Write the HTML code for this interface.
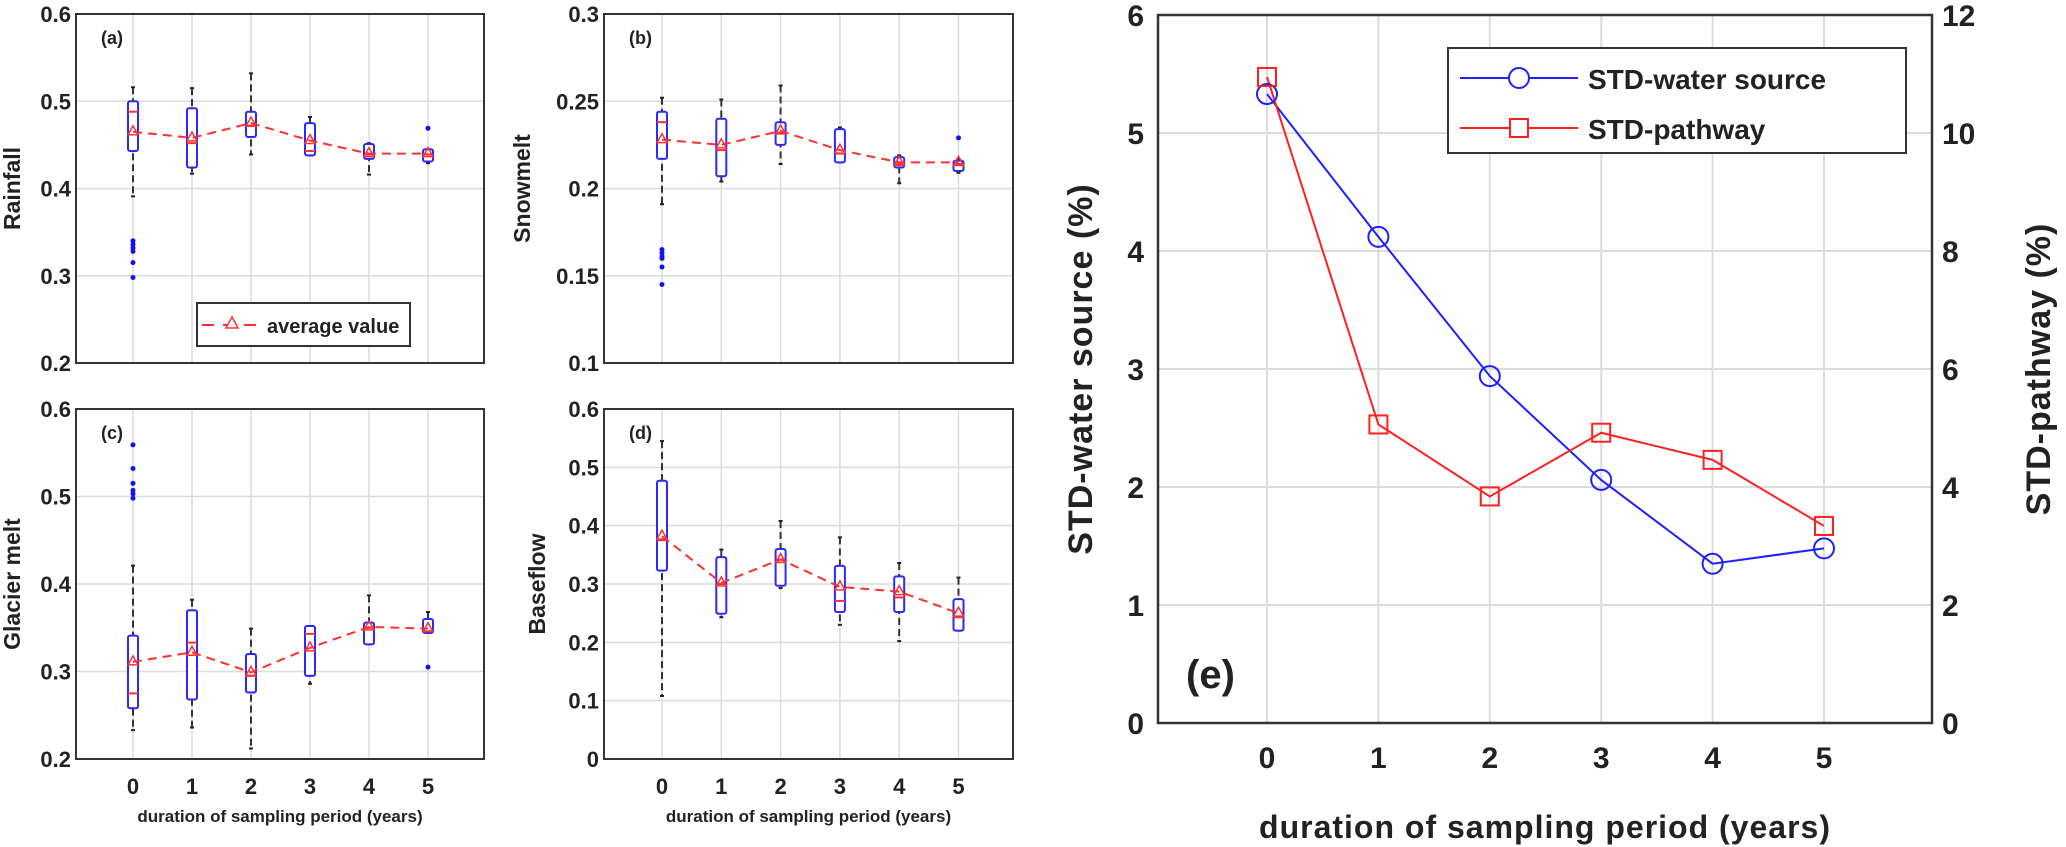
<!DOCTYPE html>
<html><head><meta charset="utf-8">
<style>
html,body{margin:0;padding:0;background:#fff;}
svg{display:block;}
text{font-family:"Liberation Sans Narrow","Liberation Sans",sans-serif;font-weight:bold;fill:#222;}
</style></head>
<body>
<svg id="fig" width="2066" height="847" viewBox="0 0 2066 847" xmlns="http://www.w3.org/2000/svg"></svg>
<script>
// ---------- data ----------
const categories = [0,1,2,3,4,5];
// box stats per category: [whiskerLow, q1, median, q3, whiskerHigh]
const rainfallBoxes = [[0.391,0.443,0.488,0.500,0.516],[0.417,0.424,0.452,0.492,0.515],[0.439,0.459,0.472,0.488,0.532],[0.438,0.438,0.443,0.475,0.482],[0.416,0.434,0.439,0.451,0.452],[0.429,0.431,0.439,0.445,0.445]];
const rainfallMeans = [0.465,0.458,0.475,0.455,0.440,0.440];
const rainfallOutliers = [[0,0.340],[0,0.336],[0,0.332],[0,0.328],[0,0.315],[0,0.298],[5,0.469]];
const snowmeltBoxes = [[0.191,0.217,0.238,0.244,0.252],[0.204,0.207,0.222,0.240,0.251],[0.214,0.225,0.232,0.238,0.259],[0.215,0.215,0.220,0.234,0.235],[0.203,0.212,0.214,0.218,0.219],[0.209,0.210,0.214,0.216,0.217]];
const snowmeltMeans = [0.228,0.225,0.233,0.222,0.215,0.215];
const snowmeltOutliers = [[0,0.165],[0,0.163],[0,0.161],[0,0.160],[0,0.155],[0,0.145],[5,0.229]];
const glacierBoxes = [[0.233,0.258,0.275,0.341,0.421],[0.236,0.268,0.333,0.370,0.382],[0.212,0.276,0.295,0.320,0.349],[0.286,0.295,0.343,0.352,0.352],[0.331,0.331,0.350,0.356,0.387],[0.344,0.344,0.346,0.360,0.368]];
const glacierMeans = [0.311,0.322,0.299,0.327,0.351,0.349];
const glacierOutliers = [[0,0.559],[0,0.532],[0,0.515],[0,0.507],[0,0.503],[0,0.498],[5,0.305]];
const baseflowBoxes = [[0.108,0.323,0.375,0.477,0.545],[0.243,0.249,0.300,0.346,0.359],[0.293,0.297,0.342,0.360,0.408],[0.230,0.252,0.271,0.331,0.380],[0.202,0.252,0.277,0.313,0.336],[0.220,0.220,0.243,0.274,0.311]];
const baseflowMeans = [0.382,0.302,0.342,0.295,0.287,0.250];
const baseflowOutliers = [];
const stdWaterSource = [5.33,4.12,2.94,2.06,1.35,1.48];
const stdPathway = [10.95,5.06,3.84,4.92,4.46,3.34];
const ticksA = [0.2,0.3,0.4,0.5,0.6];
const ticksB = [0.1,0.15,0.2,0.25,0.3];
const ticksD = [0,0.1,0.2,0.3,0.4,0.5,0.6];
const ticksELeft = [0,1,2,3,4,5,6];
const ticksERight = [0,2,4,6,8,10,12];

const NS = "http://www.w3.org/2000/svg";
const svg = document.getElementById('fig');
function mk(tag, attrs, parent, txt){
  const e = document.createElementNS(NS, tag);
  for (const k in attrs) e.setAttribute(k, attrs[k]);
  if (txt !== undefined) e.textContent = txt;
  (parent||svg).appendChild(e);
  return e;
}

function boxPanel(cfg){
  const g = mk('g', {});
  
  
  const {L,R,T,B,ymin,ymax,ticks,c0,dc} = cfg;
  const y = v => B - (v - ymin) / (ymax - ymin) * (B - T);
  const x = i => c0 + i * dc;
  // grid
  ticks.forEach(t => {
    const gl = mk('line', {x1:L, x2:R, y1:y(t), y2:y(t), stroke:'#dcdcdc', 'stroke-width':1.5}, g);
    
    
    const tl = mk('text', {x:L-5, y:y(t)+8, 'text-anchor':'end', 'font-size':22}, g, String(t));
    
    
  });
  categories.forEach((c,i) => {
    const gl = mk('line', {x1:x(i), x2:x(i), y1:T, y2:B, stroke:'#dcdcdc', 'stroke-width':1.5}, g);
    
    
    if (cfg.xlabels){
      const tl = mk('text', {x:x(i), y:B+35, 'text-anchor':'middle', 'font-size':22}, g, String(c));
      
      
    }
  });
  // frame
  const fr = mk('rect', {x:L, y:T, width:R-L, height:B-T, fill:'none', stroke:'#333', 'stroke-width':2}, g);
  
  
  // boxes
  cfg.boxes.forEach((b,i) => {
    const cx = x(i);
    const wl = mk('line', {x1:cx, x2:cx, y1:y(b[4]), y2:y(b[0]), stroke:'#333', 'stroke-width':2, 'stroke-dasharray':'7,4'}, g);
    
    
    [b[0], b[4]].forEach(v => {
      const cap = mk('line', {x1:cx-2, x2:cx+2, y1:y(v), y2:y(v), stroke:'#222', 'stroke-width':2}, g);
      
      
    });
    const bx = mk('rect', {x:cx-5, y:y(b[3]), width:10, height:Math.max(2, y(b[1])-y(b[3])), rx:2, fill:'#fff', stroke:'#2a2aff', 'stroke-width':2}, g);
    
    
    const md = mk('line', {x1:cx-5, x2:cx+5, y1:y(b[2]), y2:y(b[2]), stroke:'#ff3030', 'stroke-width':2}, g);
    
    
  });
  cfg.outliers.forEach(o => {
    const d = mk('circle', {cx:x(o[0]), cy:y(o[1]), r:2.5, fill:'#1010ff'}, g);
    
    
  });
  // mean line
  const pts = cfg.means.map((m,i) => x(i)+','+y(m)).join(' ');
  const ml = mk('polyline', {points:pts, fill:'none', stroke:'#ff3030', 'stroke-width':2, 'stroke-dasharray':'9,6'}, g);
  
  
  cfg.means.forEach((m,i) => {
    const cx = x(i), cy = y(m);
    const tr = mk('polygon', {points:`${cx},${cy-6} ${cx-5},${cy+3} ${cx+5},${cy+3}`, fill:'none', stroke:'#ff3030', 'stroke-width':1.5}, g);
    
    
  });
  const pl = mk('text', {x:L+25, y:T+30, 'font-size':18}, g, cfg.tag);
  
  
  const yl = mk('text', {x:cfg.ylx, y:(T+B)/2, 'text-anchor':'middle', 'font-size':23, transform:`rotate(-90 ${cfg.ylx} ${(T+B)/2})`}, g, cfg.ylabel);
  
  
  if (cfg.xlabels){
    const xl = mk('text', {x:(L+R)/2, y:B+63, 'text-anchor':'middle', 'font-size':17}, g, 'duration of sampling period (years)');
    
    
  }
  return g;
}

boxPanel({name:'panel-a-rainfall', tag:'(a)', ylabel:'Rainfall', ylx:20, L:76, R:484, T:14, B:363, ymin:0.2, ymax:0.6, ticks:ticksA, c0:133, dc:59, boxes:rainfallBoxes, means:rainfallMeans, outliers:rainfallOutliers, xlabels:false});
boxPanel({name:'panel-b-snowmelt', tag:'(b)', ylabel:'Snowmelt', ylx:530, L:604, R:1013, T:14, B:363, ymin:0.1, ymax:0.3, ticks:ticksB, c0:662, dc:59.3, boxes:snowmeltBoxes, means:snowmeltMeans, outliers:snowmeltOutliers, xlabels:false});
boxPanel({name:'panel-c-glacier-melt', tag:'(c)', ylabel:'Glacier melt', ylx:20, L:76, R:484, T:409, B:759, ymin:0.2, ymax:0.6, ticks:ticksA, c0:133, dc:59, boxes:glacierBoxes, means:glacierMeans, outliers:glacierOutliers, xlabels:true});
boxPanel({name:'panel-d-baseflow', tag:'(d)', ylabel:'Baseflow', ylx:545, L:604, R:1013, T:409, B:759, ymin:0, ymax:0.6, ticks:ticksD, c0:662, dc:59.3, boxes:baseflowBoxes, means:baseflowMeans, outliers:baseflowOutliers, xlabels:true});

// legend in panel a
(function(){
  const g = mk('g', {});
  
  
  mk('rect', {x:197, y:303, width:213, height:43, fill:'#fff', stroke:'#333', 'stroke-width':2}, g);
  mk('line', {x1:202, x2:262, y1:325, y2:325, stroke:'#ff3030', 'stroke-width':2, 'stroke-dasharray':'12,9'}, g);
  mk('polygon', {points:'232,317 226,328 238,328', fill:'#fff', stroke:'#ff3030', 'stroke-width':1.5}, g);
  mk('text', {x:267, y:333, 'font-size':20}, g, 'average value');
})();

// ---------- panel e ----------
(function(){
  const g = mk('g', {});
  
  
  const L=1158, R=1932, T=15, B=723;
  const x = i => 1267 + i * 111.4;
  const yl = v => B - v/6*(B-T);
  const yr = v => B - v/12*(B-T);
  ticksELeft.forEach((t,k) => {
    const gl = mk('line', {x1:L, x2:R, y1:yl(t), y2:yl(t), stroke:'#dcdcdc', 'stroke-width':2}, g);
    
    
    const tl = mk('text', {x:L-14, y:yl(t)+11, 'text-anchor':'end', 'font-size':30}, g, String(t));
    
    
  });
  ticksERight.forEach(t => {
    const tl = mk('text', {x:R+10, y:yr(t)+11, 'text-anchor':'start', 'font-size':30}, g, String(t));
    
    
  });
  categories.forEach((c,i) => {
    const gl = mk('line', {x1:x(i), x2:x(i), y1:T, y2:B, stroke:'#dcdcdc', 'stroke-width':2}, g);
    
    
    const tl = mk('text', {x:x(i), y:B+45, 'text-anchor':'middle', 'font-size':30}, g, String(c));
    
    
  });
  const fr = mk('rect', {x:L, y:T, width:R-L, height:B-T, fill:'none', stroke:'#333', 'stroke-width':2.5}, g);
  
  
  const bl = mk('polyline', {points:stdWaterSource.map((v,i)=>x(i)+','+yl(v)).join(' '), fill:'none', stroke:'#2020ff', 'stroke-width':2}, g);
  
  
  const rl = mk('polyline', {points:stdPathway.map((v,i)=>x(i)+','+yr(v)).join(' '), fill:'none', stroke:'#ff2020', 'stroke-width':2}, g);
  
  
  stdWaterSource.forEach((v,i) => {
    const c = mk('circle', {cx:x(i), cy:yl(v), r:10, fill:'none', stroke:'#2020ff', 'stroke-width':2}, g);
    
    
  });
  stdPathway.forEach((v,i) => {
    const s = mk('rect', {x:x(i)-9, y:yr(v)-9, width:18, height:18, fill:'none', stroke:'#ff2020', 'stroke-width':2}, g);
    
    
  });
  const pl = mk('text', {x:1186, y:688, 'font-size':40}, g, '(e)');
  
  
  const ylt = mk('text', {x:1092, y:369, 'text-anchor':'middle', 'font-size':34, 'letter-spacing':'1', transform:'rotate(-90 1092 369)'}, g, 'STD-water source  (%)');
  
  
  const yrt = mk('text', {x:2050, y:369, 'text-anchor':'middle', 'font-size':34, 'letter-spacing':'1', transform:'rotate(-90 2050 369)'}, g, 'STD-pathway (%)');
  
  
  const xt = mk('text', {x:1545, y:838, 'text-anchor':'middle', 'font-size':32, 'letter-spacing':'1'}, g, 'duration of sampling period (years)');
  
  
  const lg = mk('g', {}, g);
  
  
  mk('rect', {x:1448, y:48, width:458, height:105, fill:'#fff', stroke:'#333', 'stroke-width':2}, lg);
  mk('line', {x1:1460, x2:1578, y1:78, y2:78, stroke:'#2020ff', 'stroke-width':2}, lg);
  mk('circle', {cx:1519, cy:78, r:10, fill:'#fff', stroke:'#2020ff', 'stroke-width':2}, lg);
  mk('text', {x:1588, y:89, 'font-size':28}, lg, 'STD-water source');
  mk('line', {x1:1460, x2:1578, y1:128, y2:128, stroke:'#ff2020', 'stroke-width':2}, lg);
  mk('rect', {x:1510, y:119, width:18, height:18, fill:'#fff', stroke:'#ff2020', 'stroke-width':2}, lg);
  mk('text', {x:1588, y:139, 'font-size':28}, lg, 'STD-pathway');
})();
</script>
</body></html>
